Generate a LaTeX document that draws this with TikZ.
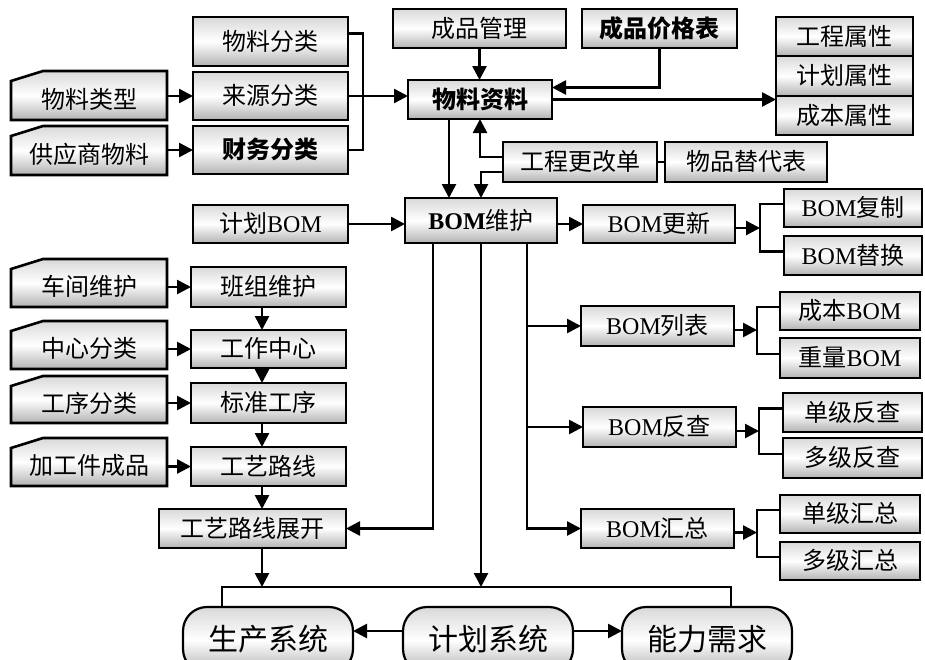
\documentclass[tikz,border=0pt]{standalone}
\usepackage{fontspec}
\setmainfont{Liberation Serif}
\newfontfamily\cjk{Noto Sans CJK SC}
\usetikzlibrary{arrows.meta}
\tikzset{
  shade3/.style={top color=gray!30, bottom color=gray!60, middle color=white},
  box/.style={draw=black, line width=2.6pt, shade3, inner sep=0pt, outer sep=0pt,
    text height=20pt, text depth=3pt, font=\fontsize{24}{26}\selectfont\cjk},
  boldbox/.style={box, font=\fontsize{24}{26}\selectfont\cjk\bfseries},
  txt/.style={inner sep=0pt, outer sep=0pt, text height=20pt, text depth=3pt,
    font=\fontsize{24}{26}\selectfont\cjk},
  cardshape/.style={draw=black, line width=2.6pt, shade3, line join=miter},
  oval/.style={draw=black, line width=2.2pt, shade3, rounded corners=24pt,
    inner sep=0pt, outer sep=0pt, text height=25pt, text depth=4pt,
    font=\fontsize{30}{32}\selectfont\cjk},
  conn/.style={line width=2.6pt},
  arr/.style={conn, -{Triangle[length=14pt,width=14pt]}},
}
\newcommand\bx[7][box]{\node[#1, minimum width=#5-#3, minimum height=#6-#4]
  (#2) at ({(#3+#5)/2},{(#4+#6)/2}) {#7};}
\newcommand\card[4]{%
  \path[cardshape] (11,#2+10) -- (43,#2) -- (167,#2) -- (167,#3) -- (11,#3) -- cycle;
  \node[txt, minimum width=156, minimum height=#3-#2-8] (#1) at (89,{(#2+8+#3)/2}) {#4};}
\begin{document}
\begin{tikzpicture}[x=1pt,y=-1pt]
\useasboundingbox (0,0) rectangle (925,659);
% top-left group
\bx{wlfl}{193}{17}{348}{66}{物料分类}
\bx{lyfl}{193}{72}{348}{120}{来源分类}
\bx[boldbox]{cwfl}{193}{126}{348}{174}{财务分类}
\card{wllx}{71}{120}{物料类型}
\card{gyswl}{126}{175}{供应商物料}
% top middle
\bx{cpgl}{393}{9}{566}{48}{成品管理}
\bx[boldbox]{cpjg}{582}{9}{737}{48}{成品价格表}
\bx[boldbox]{wlzl}{408}{80}{552}{119}{物料资料}
\bx{gcsx}{776}{17}{913}{56}{工程属性}
\bx{jhsx}{776}{56}{913}{96}{计划属性}
\bx{cbsx}{776}{96}{913}{135}{成本属性}
\bx{gcgg}{503}{142}{657}{182}{工程更改单}
\bx{wptd}{665}{142}{827}{182}{物品替代表}
% BOM
\bx{jhbom}{193}{205}{348}{243}{计划{\rmfamily BOM}}
\bx{bomwh}{405}{198}{557}{243}{{\rmfamily\bfseries BOM}维护}
\bx{bomgx}{583}{205}{735}{243}{{\rmfamily BOM}更新}
\bx{bomfz}{784}{189}{922}{227}{{\rmfamily BOM}复制}
\bx{bomth}{784}{236}{922}{275}{{\rmfamily BOM}替换}
\bx{bomlb}{581}{306}{734}{346}{{\rmfamily BOM}列表}
\bx{cbbom}{780}{292}{920}{330}{成本{\rmfamily BOM}}
\bx{zlbom}{780}{338}{920}{378}{重量{\rmfamily BOM}}
\bx{bomfc}{583}{407}{736}{447}{{\rmfamily BOM}反查}
\bx{djfc}{783}{393}{922}{432}{单级反查}
\bx{dyfc}{783}{438}{922}{478}{多级反查}
\bx{bomhz}{581}{509}{734}{548}{{\rmfamily BOM}汇总}
\bx{djhz}{780}{495}{920}{533}{单级汇总}
\bx{dyhz}{780}{542}{920}{580}{多级汇总}
% left column
\card{cjwh}{259}{307}{车间维护}
\card{zxfl}{321}{369}{中心分类}
\card{gxfl}{376}{423}{工序分类}
\card{jgjcp}{438}{486}{加工件成品}
\bx{bzwh}{191}{267}{346}{307}{班组维护}
\bx{gzzx}{191}{330}{346}{368}{工作中心}
\bx{bzgx}{191}{383}{346}{423}{标准工序}
\bx{gylx}{191}{447}{346}{486}{工艺路线}
\bx{gyzk}{159}{509}{346}{548}{工艺路线展开}
% bottom
\bx[oval]{sczt}{183}{607}{353}{673}{生产系统}
\bx[oval]{jhxt}{403}{607}{573}{673}{计划系统}
\bx[oval]{nlxq}{622}{607}{792}{673}{能力需求}
% coordinates
\coordinate (bus) at (0,587);
\coordinate (vx) at (262,0);
\coordinate (tl) at ([xshift=-48pt]bomwh.south);
\coordinate (tr) at ([xshift=46pt]bomwh.south);
% connectors top
\draw[conn] ([yshift=8pt]wlfl.east) -- ++(15,0) |- (cwfl.east);
\draw[arr] (lyfl.east) -- (lyfl.east -| wlzl.west);
\draw[arr] (wllx.east |- lyfl.west) -- (lyfl.west);
\draw[arr] (gyswl.east |- cwfl.west) -- (cwfl.west);
\draw[arr] (cpgl.south) -- (cpgl.south |- wlzl.north);
\draw[arr] (cpjg.south) |- ([yshift=12pt]wlzl.east);
\draw[arr] (wlzl.east) -- (wlzl.east -| cbsx.west);
\draw[arr] ([yshift=5pt]gcgg.west) -| (wlzl.south);
\draw[arr] ([yshift=-10pt]gcgg.west) -| (bomwh.north);
\draw[arr] ([xshift=-31pt]wlzl.south) -- ++(0,79);
\draw[conn] (gcgg.east) -- (wptd.west);
\draw[arr] (jhbom.east) -- (jhbom.east -| bomwh.west);
\draw[arr] (bomwh.east |- bomgx.west) -- (bomgx.west);
% BOM branches
\draw[arr] ([yshift=-4pt]bomgx.east) -- ++(25,0);
\draw[conn] ([yshift=4pt]bomfz.west) -- ++(-24,0) |- ([yshift=4pt]bomth.west);
\draw[arr] ([yshift=-4pt]bomlb.east) -- ++(23,0);
\draw[conn] ([yshift=4pt]cbbom.west) -- ++(-23,0) |- ([yshift=4pt]zlbom.west);
\draw[arr] ([yshift=-4pt]bomfc.east) -- ++(23,0);
\draw[conn] ([yshift=4pt]djfc.west) -- ++(-24,0) |- ([yshift=4pt]dyfc.west);
\draw[arr] ([yshift=-4pt]bomhz.east) -- ++(23,0);
\draw[conn] ([yshift=4pt]djhz.west) -- ++(-23,0) |- ([yshift=4pt]dyhz.west);
\draw[arr] (tr) |- (bomhz.west);
\draw[arr] (tr |- bomlb.west) -- (bomlb.west);
\draw[arr] (tr |- bomfc.west) -- (bomfc.west);
\draw[arr] (tl) |- (gyzk.east);
\draw[arr] (bomwh.south) -- (bomwh.south |- bus);
% left column
\draw[arr] (cjwh.east |- bzwh.west) -- (bzwh.west);
\draw[arr] (zxfl.east |- gzzx.west) -- (gzzx.west);
\draw[arr] (gxfl.east |- bzgx.west) -- (bzgx.west);
\draw[arr] (jgjcp.east |- gylx.west) -- (gylx.west);
\draw[arr] (vx |- bzwh.south) -- (vx |- gzzx.north);
\draw[arr] (vx |- gzzx.south) -- (vx |- bzgx.north);
\draw[arr] (vx |- bzgx.south) -- (vx |- gylx.north);
\draw[arr] (vx |- gylx.south) -- (vx |- gyzk.north);
\draw[arr] (vx |- gyzk.south) -- (vx |- bus);
% bottom
\draw[conn] ([xshift=-46pt]sczt.north) -- ++(0,-20) -| ([xshift=24pt]nlxq.north);
\draw[arr] ([yshift=9pt]jhxt.west) -- ++(-50,0);
\draw[arr] ([yshift=9pt]jhxt.east) -- ++(49,0);
\end{tikzpicture}
\end{document}
